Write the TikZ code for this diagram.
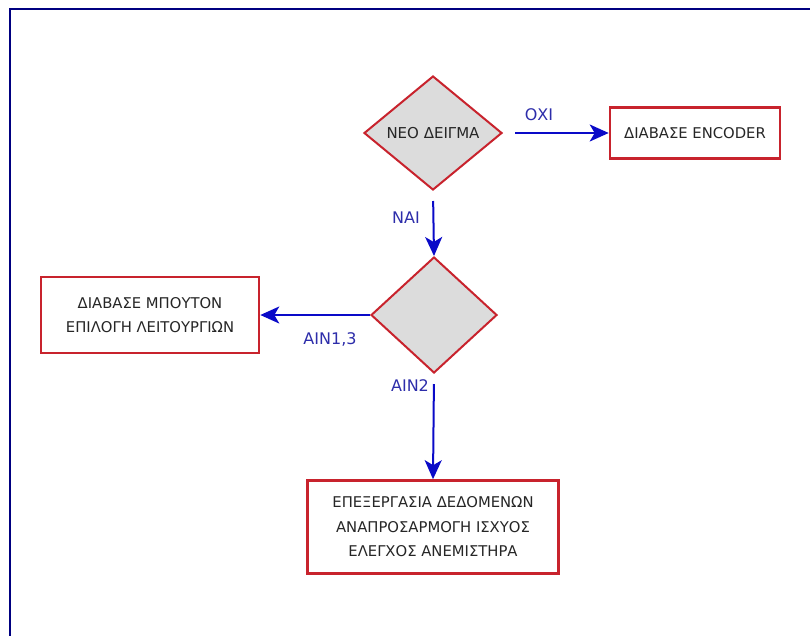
\documentclass[tikz,border=0pt]{standalone}
\usepackage{fontspec}
\setmainfont{DejaVu Sans}
\usepackage{xcolor}
\usetikzlibrary{shapes,arrows.meta,positioning}

\definecolor{boxred}{RGB}{200,35,45}
\definecolor{decgray}{RGB}{220,220,220}
\definecolor{flowblue}{RGB}{10,10,200}
\definecolor{lblblue}{RGB}{45,45,170}
\definecolor{framenavy}{RGB}{0,0,128}

\begin{document}
\begin{tikzpicture}[x=1pt,y=-1pt,
        decision/.style={diamond,draw=boxred,fill=decgray,line width=2pt,inner sep=0pt,
            text=black!85,font=\fontsize{15}{17}\selectfont},
        task/.style={rectangle,draw=boxred,fill=white,line width=2.6pt,inner sep=0pt,
            align=center,text=black!85,font=\fontsize{14.8}{24.5}\selectfont},
        flow/.style={draw=flowblue,line width=2pt,-{Stealth[length=19pt,width=17pt,inset=5pt]}},
        lbl/.style={text=lblblue,font=\fontsize{16}{18}\selectfont}]
    \useasboundingbox (0,0) rectangle (810,635);
    \clip (0,0) rectangle (810,635);

    % Frame
    \draw[framenavy,line width=2.5pt] (10,9) rectangle (840,660);

    % Decisions
    \node[decision,minimum width=138pt,minimum height=114pt] (sample) at (433,133) {ΝΕΟ ΔΕΙΓΜΑ};
    \node[decision,minimum width=126pt,minimum height=116pt] (ain) at (434,315) {};

    % Tasks
    \node[task,minimum width=170pt,minimum height=51pt] (encoder) at (695,133) {ΔΙΑΒΑΣΕ ENCODER};
    \node[task,minimum width=218pt,minimum height=76pt] (buttons) at (150,315)
        {ΔΙΑΒΑΣΕ ΜΠΟΥΤΟΝ\\ΕΠΙΛΟΓΗ ΛΕΙΤΟΥΡΓΙΩΝ};
    \node[task,minimum width=251pt,minimum height=93pt] (process) at (433,527)
        {ΕΠΕΞΕΡΓΑΣΙΑ ΔΕΔΟΜΕΝΩΝ\\ΑΝΑΠΡΟΣΑΡΜΟΓΗ ΙΣΧΥΟΣ\\ΕΛΕΓΧΟΣ ΑΝΕΜΙΣΤΗΡΑ};

    % Flow
    \draw[flow,shorten <=12pt] (sample.east) -- (encoder.west);
    \draw[flow,shorten <=10pt] (sample.south) -- (ain.north);
    \draw[flow] (ain.west) -- (buttons.east);
    \draw[flow,shorten <=10pt] (ain.south) -- (process.north);

    % Labels
    \node[lbl] (no) at (539,115) {ΟΧΙ};
    \node[lbl] (yes) at (406,218) {ΝΑΙ};
    \node[lbl] (ain13) at (330,339) {AIN1,3};
    \node[lbl] (ain2) at (410,386) {AIN2};
\end{tikzpicture}
\end{document}
